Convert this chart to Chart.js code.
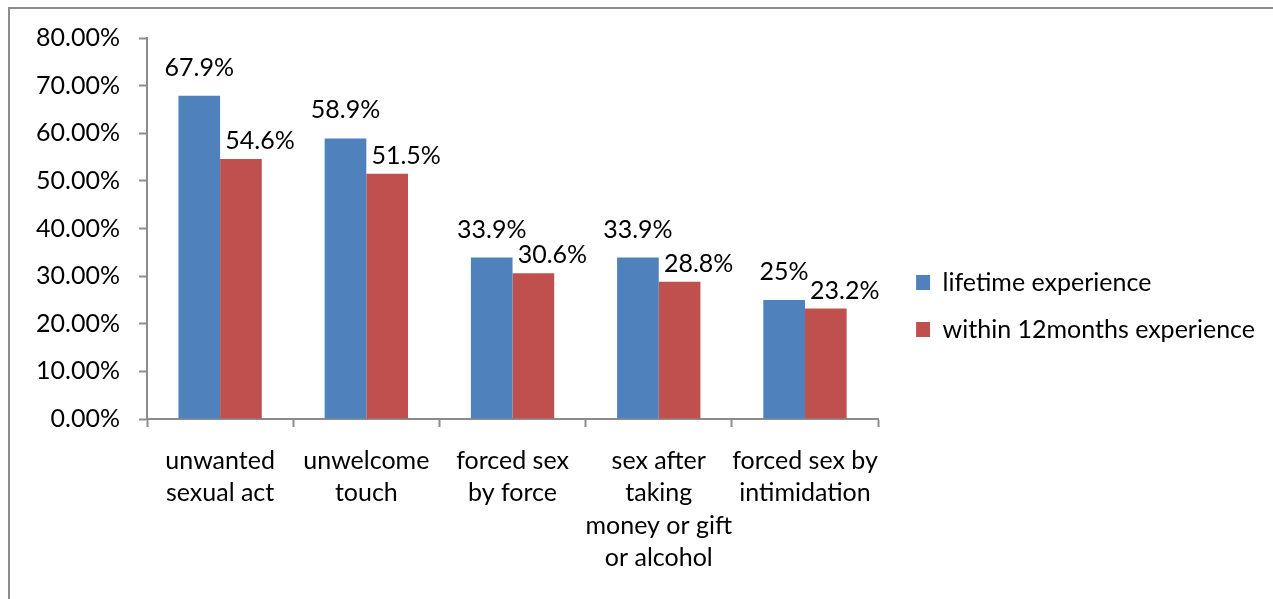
<!DOCTYPE html>
<html>
<head>
<meta charset="utf-8">
<script src="https://cdn.jsdelivr.net/npm/chart.js@4"></script>
<style>
  body { margin: 0; background: #fff; overflow: hidden; }
  #frame {
    position: absolute; left: 8px; top: 7px; width: 2000px; height: 2000px;
    border-left: 2px solid #8c8c8c; border-top: 2px solid #8c8c8c;
  }
  #chart { position: absolute; left: 0; top: 0; }
</style>
</head>
<body>
<div id="frame"></div>
<canvas id="chart" width="1273" height="599"></canvas>
<script>
const categories = [
  ['unwanted', 'sexual act'],
  ['unwelcome', 'touch'],
  ['forced sex', 'by force'],
  ['sex after', 'taking', 'money or gift', 'or alcohol'],
  ['forced sex by', 'intimidation']
];
const lifetime = [67.9, 58.9, 33.9, 33.9, 25];
const within12 = [54.6, 51.5, 30.6, 28.8, 23.2];
const yMin = 0, yMax = 80, yStep = 10;

const FONT = 'Lato';
const axisColor = '#8c8c8c';

// value labels above each bar; red ones sit a bit lower and to the right
const labelOffsets = [{ dx: 0, dy: 20 }, { dx: 19, dy: 10 }];
const barLabels = {
  id: 'barLabels',
  afterDatasetsDraw(chart) {
    const ctx = chart.ctx;
    ctx.save();
    ctx.font = '25px ' + FONT;
    ctx.fillStyle = '#000';
    ctx.textAlign = 'center';
    ctx.textBaseline = 'alphabetic';
    chart.data.datasets.forEach((ds, i) => {
      const off = labelOffsets[i];
      chart.getDatasetMeta(i).data.forEach((bar, j) => {
        ctx.fillText(ds.data[j] + '%', bar.x + off.dx, bar.y - off.dy);
      });
    });
    ctx.restore();
  }
};

new Chart(document.getElementById('chart'), {
  type: 'bar',
  data: {
    labels: categories,
    datasets: [{
      label: 'lifetime experience',
      data: lifetime,
      backgroundColor: '#4f81bd',
      categoryPercentage: 0.57,
      barPercentage: 1
    }, {
      label: 'within 12months experience',
      data: within12,
      backgroundColor: '#c0504d',
      categoryPercentage: 0.57,
      barPercentage: 1
    }]
  },
  options: {
    responsive: false,
    animation: false,
    layout: { padding: { top: 38, bottom: 25, left: 0, right: 8 } },
    scales: {
      x: {
        afterFit(s) { s.height = 155; },
        grid: {
          display: true,
          drawOnChartArea: false,
          tickLength: 8,
          tickColor: axisColor,
          tickWidth: 2
        },
        border: { color: axisColor, width: 2 },
        ticks: {
          color: '#000',
          padding: 18,
          autoSkip: false,
          font: { family: FONT, size: 25, lineHeight: 1.29 },
          maxRotation: 0
        }
      },
      y: {
        min: yMin,
        max: yMax,
        afterFit(s) { s.width = 147; },
        grid: {
          drawOnChartArea: false,
          tickLength: 8,
          tickColor: axisColor,
          tickWidth: 2
        },
        border: { color: axisColor, width: 2 },
        ticks: {
          stepSize: yStep,
          color: '#000',
          padding: 19,
          font: { family: FONT, size: 25 },
          callback: v => v.toFixed(2) + '%'
        }
      },
      // empty spacer between the plot and the legend
      gap: {
        type: 'linear',
        position: 'right',
        afterFit(s) { s.width = 16; },
        grid: { display: false },
        border: { display: false },
        ticks: { display: false }
      }
    },
    plugins: {
      legend: {
        position: 'right',
        maxWidth: 420,
        labels: {
          color: '#000',
          boxWidth: 14,
          boxHeight: 15,
          padding: 22,
          font: { family: FONT, size: 25 }
        }
      },
      tooltip: { enabled: false }
    }
  },
  plugins: [barLabels]
});
</script>
</body>
</html>
